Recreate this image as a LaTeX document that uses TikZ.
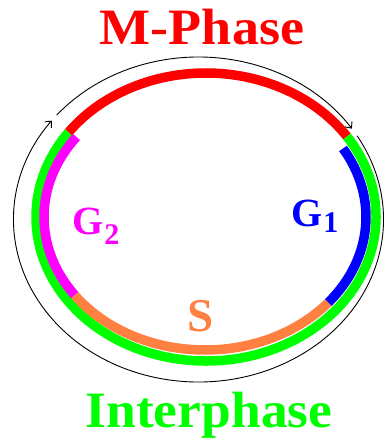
\documentclass[tikz,border=0pt]{standalone}
\usepackage{fontspec}
\setmainfont{Liberation Serif}
\usetikzlibrary{arrows.meta}
\definecolor{mred}{RGB}{255,0,0}
\definecolor{igreen}{RGB}{0,255,0}
\definecolor{gmag}{RGB}{255,0,255}
\definecolor{gblue}{RGB}{0,0,255}
\definecolor{sorange}{RGB}{255,128,64}
\tikzset{
  band/.style={line width=9.5pt, line cap=butt},
  cyclearrow/.style={black, line width=0.9pt, -{Straight Barb[length=5pt,width=9pt]}},
  lbl/.style={inner sep=0pt, anchor=base, font=\bfseries},
}
\begin{document}
\begin{tikzpicture}[x=1pt,y=1pt]
\useasboundingbox (0,0) rectangle (389,439);
% outer band (M-phase red + interphase green)
\coordinate (oc) at (206,222);
\draw[band, mred] (oc) ++(144:170 and 144) arc[start angle=144, end angle=34, x radius=170, y radius=144];
\draw[band, igreen] (oc) ++(34:170 and 144) arc[start angle=34, end angle=-216, x radius=170, y radius=144];
% inner band (G1, S, G2)
\coordinate (ic) at (205,222);
\draw[band, gmag] (ic) ++(143:161 and 133) arc[start angle=143, end angle=216, x radius=161, y radius=133];
\draw[band, sorange] (ic) ++(216:161 and 133) arc[start angle=216, end angle=320, x radius=161, y radius=133];
\draw[band, gblue] (ic) ++(320:161 and 133) arc[start angle=320, end angle=391, x radius=161, y radius=133];
% black cycle arrows
\coordinate (bc) at (198.5,219.5);
\draw[cyclearrow] (bc) ++(140:185 and 162.5) arc[start angle=140, end angle=34, x radius=185, y radius=162.5];
\draw[cyclearrow] (bc) ++(31:185 and 162.5) arc[start angle=31, end angle=-217.5, x radius=185, y radius=162.5];
% labels
\node[lbl, text=mred, xscale=1.06] (mphase) at (202,394) {\fontsize{51}{51}\selectfont M-Phase};
\node[lbl, text=igreen, xscale=1.05] (inter) at (209,12) {\fontsize{51}{51}\selectfont Interphase};
\node[lbl, text=sorange] (s) at (201,107) {\fontsize{47}{47}\selectfont S};
\node[lbl, text=gmag, anchor=base west] (g2) at (72,204) {\fontsize{40}{40}\selectfont G\kern1pt\raisebox{-10pt}{\fontsize{30}{30}\selectfont 2}};
\node[lbl, text=gblue, anchor=base west] (g1) at (291,212) {\fontsize{40}{40}\selectfont G\kern1pt\raisebox{-6pt}{\fontsize{30}{30}\selectfont 1}};
\end{tikzpicture}
\end{document}
